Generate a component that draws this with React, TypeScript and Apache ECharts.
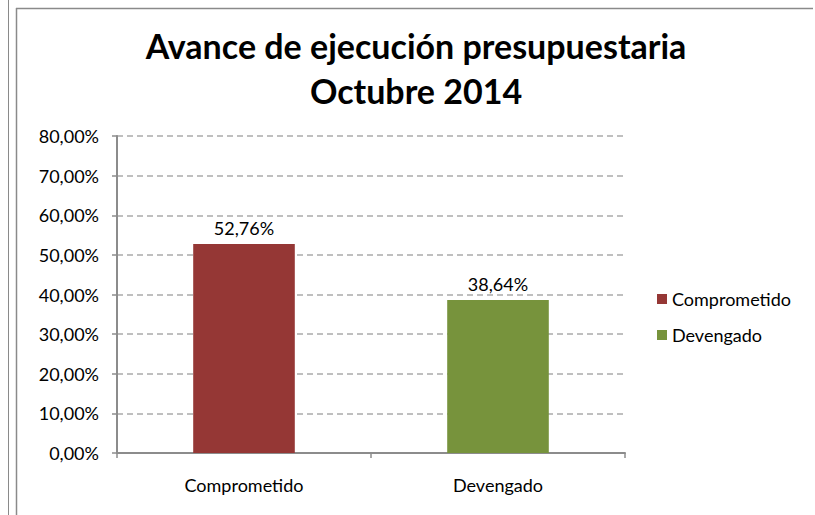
import React, { useEffect, useRef } from "react";
import * as echarts from "echarts";

const categories = ["Comprometido", "Devengado"];
const seriesNames = ["Comprometido", "Devengado"];
const values = [52.76, 38.64];
const colors = ["#953735", "#77933C"];
const titleLines = ["Avance de ejecución presupuestaria", "Octubre 2014"];
const yTicks = [0, 10, 20, 30, 40, 50, 60, 70, 80];

const fmt = (v: number) => v.toFixed(2).replace(".", ",") + "%";
const FONT = "Lato";
const FS = 18;

export default function App() {
  const ref = useRef<HTMLDivElement>(null);
  useEffect(() => {
    const chart = echarts.init(ref.current!, null, { renderer: "svg" });
    const series = seriesNames.map((name, i) => ({
      name,
      type: "bar",
      stack: "s",
      barWidth: "40%",
      itemStyle: { color: colors[i] },
      label: {
        show: true,
        position: "top",
        distance: 7,
        formatter: (p: any) => fmt(p.value),
        fontFamily: FONT,
        fontSize: FS,
        color: "#000",
      },
      data: categories.map((c, j) => (j === i ? values[i] : null)),
    }));
    chart.setOption({
      animation: false,
      title: {
        text: titleLines.join("\n"),
        left: 416,
        textAlign: "center",
        top: 23,
        padding: 0,
        textStyle: {
          fontFamily: FONT,
          fontWeight: "bold",
          fontSize: 34,
          lineHeight: 45,
          color: "#000",
        },
      },
      legend: {
        orient: "vertical",
        left: 657,
        top: 290,
        itemWidth: 10,
        itemHeight: 10,
        itemGap: 18,
        icon: "rect",
        padding: 0,
        textStyle: { fontFamily: FONT, fontSize: FS, color: "#000" },
        data: seriesNames,
      },
      grid: { left: 117, right: 190, top: 136, bottom: 62, containLabel: false },
      xAxis: {
        type: "category",
        data: categories,
        axisLine: { lineStyle: { color: "#8c8c8c", width: 2 } },
        axisTick: { show: true, length: 5, lineStyle: { color: "#8c8c8c", width: 1.5 } },
        axisLabel: { fontFamily: FONT, fontSize: FS, color: "#000", margin: 23 },
      },
      yAxis: {
        type: "value",
        min: yTicks[0],
        max: yTicks[yTicks.length - 1],
        interval: 10,
        axisLine: { show: true, lineStyle: { color: "#8c8c8c", width: 2 } },
        axisTick: { show: true, length: 5, lineStyle: { color: "#8c8c8c", width: 1.5 } },
        axisLabel: {
          fontFamily: FONT,
          fontSize: FS,
          color: "#000",
          margin: 18,
          formatter: (v: number) => fmt(v),
        },
        splitLine: { lineStyle: { color: "#aaaaaa", type: [6, 4], width: 1.5 } },
      },
      graphic: [
        { type: "line", shape: { x1: 8.5, y1: 0, x2: 8.5, y2: 515 }, style: { stroke: "#8a8a8a", lineWidth: 1 } },
        { type: "line", shape: { x1: 16.5, y1: 8, x2: 16.5, y2: 515 }, style: { stroke: "#8a8a8a", lineWidth: 1.5 } },
        { type: "line", shape: { x1: 16, y1: 8.5, x2: 813, y2: 8.5 }, style: { stroke: "#8a8a8a", lineWidth: 1.5 } },
      ],
      series,
    });
    return () => chart.dispose();
  }, []);
  return (
    <div
      ref={ref}
      style={{ position: "fixed", left: 0, top: 0, width: 815, height: 515, background: "#fff" }}
    />
  );
}
